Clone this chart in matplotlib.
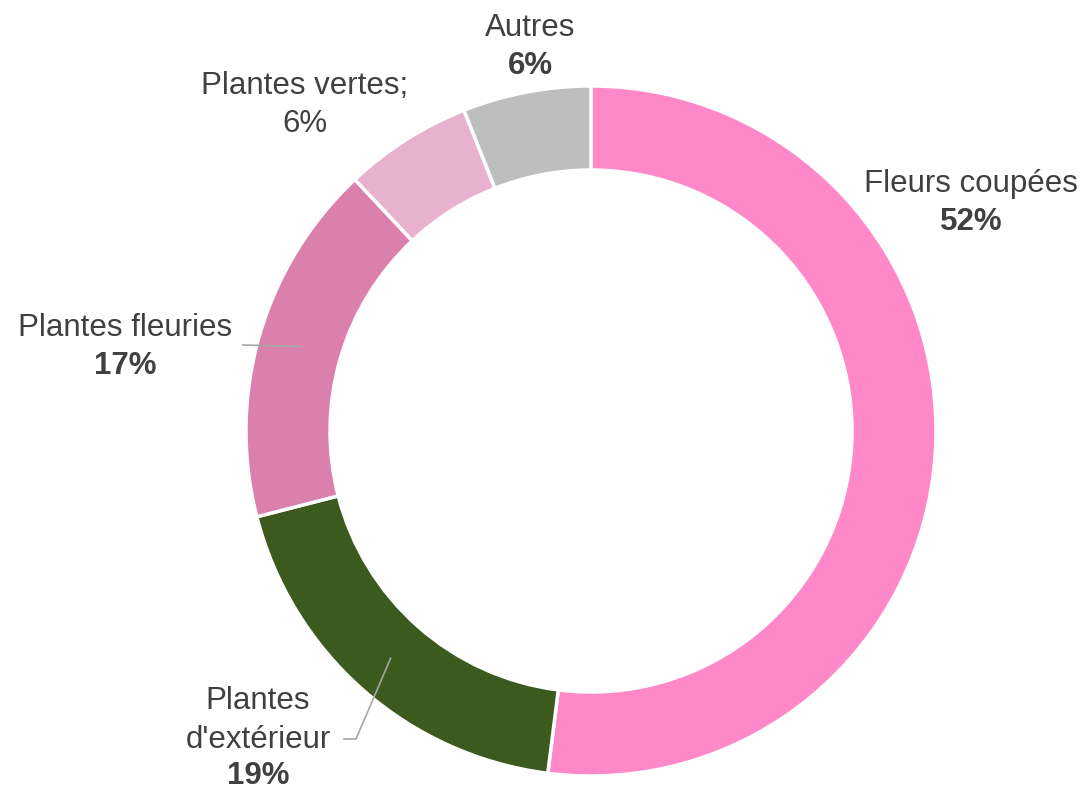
import numpy as np
import matplotlib
matplotlib.use('Agg')
import matplotlib.pyplot as plt

categories = ['Fleurs coupées', "Plantes d'extérieur", 'Plantes fleuries',
              'Plantes vertes', 'Autres']
shares = [52, 19, 17, 6, 6]
colors = ['#FF88C8', '#3C5A1E', '#DB80AC', '#E8B2CE', '#BEBEBE']

# position des etiquettes (pixels, origine en haut a gauche)
W, H = 1087, 792
CX, CY = 591, 431
R_OUT, R_IN = 345, 261
TXT = '#404040'
plt.rcParams['font.family'] = ['Liberation Sans', 'DejaVu Sans']

fig = plt.figure(figsize=(W / 100, H / 100), dpi=100)
ax = fig.add_axes([0, 0, 1, 1])
ax.set_xlim(0, W)
ax.set_ylim(H, 0)
ax.axis('off')

# pie sur axe y inverse -> on tourne dans l'autre sens
wedges, _ = ax.pie(shares, colors=colors, startangle=-90, counterclock=True,
                   radius=R_OUT, center=(CX, CY),
                   wedgeprops=dict(width=R_OUT - R_IN, edgecolor='white', linewidth=2.5))
ax.set_xlim(0, W)
ax.set_ylim(H, 0)
ax.set_aspect('equal')


def mid_point(i):
    th1, th2 = wedges[i].theta1, wedges[i].theta2
    a = np.deg2rad((th1 + th2) / 2)
    r = (R_OUT + R_IN) / 2
    return CX + r * np.cos(a), CY + r * np.sin(a)


fs = 22.5
labels = {
    0: (971, 184, 'Fleurs coupées', '52%', True),
    2: (125, 328, 'Plantes fleuries', '17%', True),
    3: (305, 86, 'Plantes vertes;', '6%', False),
    4: (530, 28, 'Autres', '6%', True),
}
for i, (x, y, name, pct, bold) in labels.items():
    ax.text(x, y, name, ha='center', va='center', fontsize=fs, color=TXT)
    ax.text(x, y + 38, pct, ha='center', va='center', fontsize=fs, color=TXT,
            fontweight='bold' if bold else 'normal')

ax.text(258, 701, 'Plantes', ha='center', va='center', fontsize=fs, color=TXT)
ax.text(258, 740, "d'extérieur", ha='center', va='center', fontsize=fs, color=TXT)
ax.text(258, 776, '19%', ha='center', va='center', fontsize=fs, color=TXT,
        fontweight='bold')

# traits de rappel
mx, my = mid_point(2)
ax.plot([243, mx], [345, my], color='#A6A6A6', lw=1.2)
mx, my = mid_point(1)
ax.plot([344, 356, mx], [739, 739, my], color='#A6A6A6', lw=1.2)

fig.savefig('out.png', dpi=100, facecolor='white')
